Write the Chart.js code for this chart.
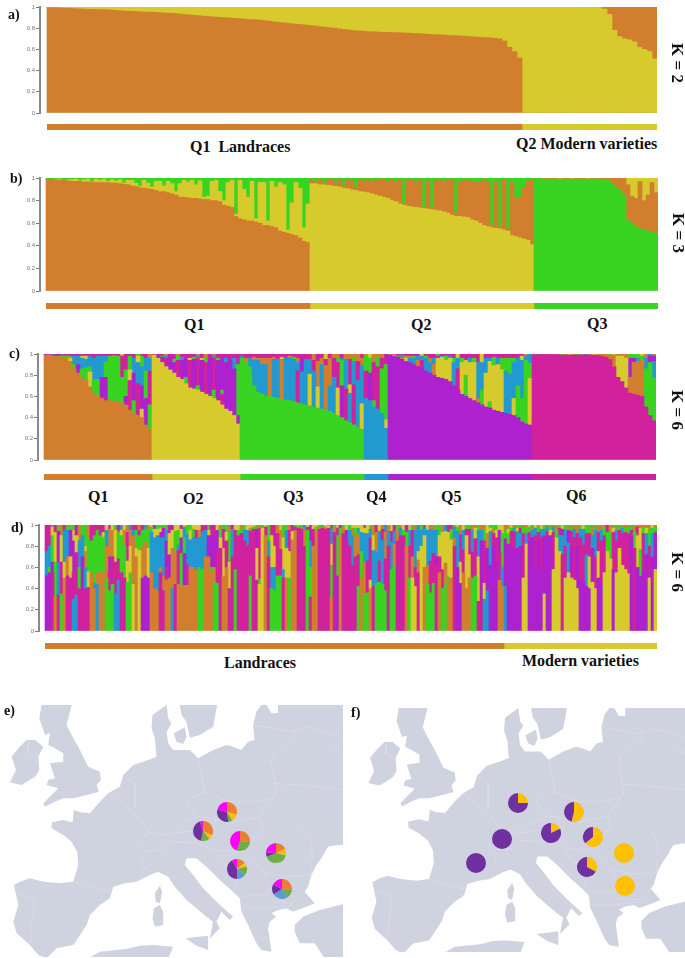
<!DOCTYPE html>
<html>
<head>
<meta charset="utf-8">
<title>Population structure</title>
<script src="https://cdn.jsdelivr.net/npm/chart.js@4/dist/chart.umd.min.js"></script>
<style>
html, body { margin: 0; padding: 0; background: #fff; }
#page { position: relative; width: 685px; height: 958px; overflow: hidden; }
canvas { position: absolute; }
.txt { position: absolute; font-family: "Liberation Serif", serif; font-weight: bold; color: #111; white-space: pre; transform: translateY(-50%); }
.k { position: absolute; font-family: "Liberation Serif", serif; font-weight: bold; color: #111; white-space: pre; font-size: 17px; transform: translate(-50%, -50%) rotate(90deg); }
</style>
</head>
<body>
<div id="page"></div>
<script>
// letters used in the column strings below
var colors = { o: "#d17f2e", y: "#d6ca2d", g: "#39d321", b: "#2299d0", p: "#ad21cf", m: "#d1229d" };
var yTicks = [0, 20, 40, 60, 80, 100];

// panel a, K = 2
var aOrangeLow = [99.5,99.4,99.2,99,98.8,98.5,98.2,98,97.8,97.7,
97.6,97.5,97.2,97,96.6,96.2,96,95.8,95.5,95.2,
95.1,95,94.7,94.4,94.2,94,93.5,93,92.5,92.1,
91.8,91.3,91,90.6,90.3,90,89.7,89.3,89,88.6,
88.2,88,87.8,87.2,86.6,86,85.5,85,84.5,84,
83.6,83.2,82.7,82.2,81.6,81,80.6,80,79.4,78.8,
78.2,77.8,77.5,77,76.7,76.5,76.3,76.1,76,75.9,
75.8,75.5,75.3,75,74.8,74.5,74.2,74,73.8,73.5,
73.2,73,72.8,72.5,72.2,71.8,71.5,71.2,71,70.5,
70,68,62,58,52,
0,0,0,0,0,0,0,0,0,0,0,0,0,0,0,0,0,0,0,0,0,0,0,0,0,0,0];
var aYellow = [0.5,0.6,0.8,1,1.2,1.5,1.8,2,2.2,2.3,
2.4,2.5,2.8,3,3.4,3.8,4,4.2,4.5,4.8,
4.9,5,5.3,5.6,5.8,6,6.5,7,7.5,7.9,
8.2,8.7,9,9.4,9.7,10,10.3,10.7,11,11.4,
11.8,12,12.2,12.8,13.4,14,14.5,15,15.5,16,
16.4,16.8,17.3,17.8,18.4,19,19.4,20,20.6,21.2,
21.8,22.2,22.5,23,23.3,23.5,23.7,23.9,24,24.1,
24.2,24.5,24.7,25,25.2,25.5,25.8,26,26.2,26.5,
26.8,27,27.2,27.5,27.8,28.2,28.5,28.8,29,29.5,
30,32,38,42,48,
100,100,100,100,100,100,99.8,99.8,99.8,99.7,99.7,99.6,99.6,99.6,99.6,99.5,
98,93,78,72,70,69,67,62,60,58,51];
var aOrangeTop = [0,0,0,0,0,0,0,0,0,0,0,0,0,0,0,0,0,0,0,0,0,0,0,0,0,0,0,0,0,0,
0,0,0,0,0,0,0,0,0,0,0,0,0,0,0,0,0,0,0,0,0,0,0,0,0,0,0,0,0,0,
0,0,0,0,0,0,0,0,0,0,0,0,0,0,0,0,0,0,0,0,0,0,0,0,0,0,0,0,0,0,0,0,0,0,0,
0,0,0,0,0,0,0.2,0.2,0.2,0.3,0.3,0.4,0.4,0.4,0.4,0.5,
2,7,22,28,30,31,33,38,40,42,49];
var aStrip = [95, 27];
var aStripCodes = ["o", "y"];

// panel b, K = 3, bottom to top
var bQ1 = ["o99 g1","o99 g1","o98.5 y.5 g1","o98 y1 g1","o98 g2","o97.5 y1 g1.5","o97 y1.5 g1.5","o97 y2 g1","o97 y.5 g2.5","o96.5 y2 g1.5",
"o96.5 y2.5 g1","o96 y.5 g3.5","o96 y3 g1","o96 y2 g2","o96 y3 g1","o96 y1 g3","o95.5 y3 g1.5","o95.5 y2 g2.5","o95 y3.5 g1.5","o94.5 y1 g4.5",
"o94 y4 g2","o93 y5 g2","o92.5 y3 g4.5","o91.5 y1 g7.5","o91 y7 g2","o90.5 y5 g4.5","o90 y2 g8","o89 y8 g3","o88 y9 g3","o88 y5 g7",
"o87 y10 g3","o86 y9 g5","o85 y3 g12","o83 y12 g5","o83 y15 g2","o82.5 y14 g3.5","o82 y16 g2","o82 y12 g6","o81.5 y16 g2.5","o81 y2 g17",
"o81 y3 g16","o80 y17 g3","o80 y18 g2","o79 y9 g12","o76 y4 g20","o75 y21 g4","o74 y24 g2","o66 y2 g32","o64 y34 g2","o63 y27 g10",
"o62 y21 g17","o62 y35 g3","o61 y3 g36","o60 y36 g4","o58 y38 g4","o58 y4 g38","o57 y40 g3","o56 y36 g8","o53 y43 g4","o52 y42 g6",
"o51 y3 g46","o50 y28 g22","o49 y47 g4","o47 y44 g9","o44 y12 g44","o43 y34 g23"];
var bQ2 = ["y95 o4 g1","y95 o2 g3","y94 o5 g1","y94 o1 g5","y93.5 o5 g1.5","y93 o6 g1","y92.5 o3 g4.5","y92 o7 g1","y91 o2 g7","y90.5 o8 g1.5",
"y89.5 o9 g1.5","y89 o3 g8","y88 o11 g1","y87.5 o9 g3.5","y87 o12 g1","y86 o11 g3","y85 o13 g2","y84 o14 g2","y83 o16 g1","y82 o15 g3",
"y80 o19 g1","y79 o17 g4","y77 o21 g2","y76 o1 g23","y75 o23 g2","y74.5 o24 g1.5","y74 o22 g4","y73.5 o25 g1.5","y73 o1 g26","y72.5 o25 g2.5",
"y72 o2 g26","y71.5 o26 g2.5","y71 o27 g2","y70 o26 g4","y69 o29 g2","y67 o31 g2","y66 o3 g31","y66 o31 g3","y65.5 o32 g2.5","y65 o33 g2",
"y63 o34 g3","y62 o35 g3","y60 o37 g3","y58 o40 g2","y57 o40 g3","y56 o2 g42","y55.5 o41 g3.5","y55 o2 g43","y54 o44 g2","y53 o2 g45",
"y49 o48 g3","y48 o34 g18","y47 o36 g17","y46 o45 g9","y45 o52 g3","y41 o57 g2"];
var bQ3 = ["g99.5 o.5","g99.5 o.5","g99 o1","g99 o1","g99 o1","g99 o1","g99 y.5 o.5","g99 o1","g99 o1","g99 y.5 o.5",
"g99 o1","g99 o1","g99 o1","g99 y.5 o.5","g99 o1","g99 o1","g99 o1","g98.5 o1.5","g98 o2","g95 o5",
"g92 o8","g90 o10","g85 o15","g63 o31 y6","g60 o24 y16","g57 o25 y18","g55 o42 y3","g54 o26 y20","g53 o32 y15","g52 o44 y4",
"g51 o36 y13"];
var bStrip = [66, 56, 31];
var bStripCodes = ["o", "y", "g"];

// panel c, K = 6, bottom to top
var cQ1 = ["o99 m1","o99 m1","o98 m1 b1","o98 p1 m1","o97 g1 b1 m1","o96 g2 m2","o93 y3 g2 m2","o86 g4 b8 m2","o82 p8 b8 m2","o78 g8 b10 y2 m2",
"o75 g12 b8 y3 m2","o69 y14 g5 b10 m2","o62 g14 b20 m4","o60 g16 b22 m2","o58 p20 b20 m2","o56 p22 g14 b6 m2","o56 g42 m2","o55.5 g43 m1.5","o55 g43 m2","o54 g24 m20 y2",
"o52 p8 g25 m15","o47 m28 y10 g13 p2","o44 g12 p26 b14 m4","o42 m30 b20 y6 g2","o40 y8 p22 b18 g10 m2","o33 p25 g26 b12 m4","o28 g24 m32 b12 o4"];
var cQ2 = ["y99 m1","y96 p2 m2","y92 p5 g1 m2","y88 m8 b2 o2","y85 p12 m3","y82 p10 g3 m5","y78 m16 g4 o2","y76 p18 b3 m3","y72 g6 p18 m4","y68 m26 y2 m4",
"y67 p28 g2 m3","y66 g4 m26 b2 o2","y64 p30 y2 m4","y62 m30 g4 o4","y60 p36 m4","y58 g8 m30 b2 o2","y56 p38 g2 m4","y52 m10 g4 p30 m4","y48 p44 b4 m4","y46 p48 m6",
"y42 p44 b10 m4","y34 p8 g48 m10"];
var cQ3 = ["g96 b2 m2","g92 o4 m4","g80 g8 b8 m4","g70 b24 o3 m3","g64 b30 o2 m4","g62 b28 o6 m4","g60 b30 o6 m4","g60 o36 m4","g59 b36 o2 m3","g58 b37 m5",
"g57 o38 y2 m3","g56.5 b40 m3.5","g56 b40 o2 m2","g55 b40 g2 m3","g54 m30 b8 o4 m4","g53 b30 p13 m4","g52 b43 m5","g51 y30 b14 m5","g50 b34 m10 o6","g49 y20 o24 m7",
"g48 b42 o6 m4","g47 o42 m6 y5","g46 b24 o26 m4","g44 b34 m18 o4","g42 y26 m24 g4 o4","g40 p30 g24 b2 m4","g37 m30 b28 o5","g35 b28 y8 m24 o5","g33 m38 b22 g3 o4","g31 b44 m18 o7",
"g29 y24 b36 o7 m4"];
var cQ4 = ["b58 m26 g14 o2","b56 p26 g14 y4","b50 g6 m36 o8","b48 m40 g8 o4","b44 g42 m10 o4","b30 y8 g52 m6 p4"];
var cQ5 = ["p99 o1","p98 y1 m1","p97 g1 m2","p95 o2 b2 m1","p93 y3 o2 m2","p92 b4 o2 m2","p90 b6 g2 m2","p88 o6 b4 m2","p86 m8 b4 y2","p84 b12 g2 m2",
"p82 b10 o4 m4","p80 o10 b6 m4","p78 y18 m2 g2","p77 y20 b1 m2","p76 y18 g4 m2","p74 y22 b2 m2","p70 b22 g4 m4","p66 m20 b10 y4","p62 y30 g4 m4","p60 g20 y14 m6","p58 y34 b4 m4",
"p56 y36 g4 m4","p54 o4 b34 m8","p52 g14 b26 y8","p50 y32 b14 m4","p49 g6 y38 b3 m4","p47 y42 g8 m3","p46 y44 b6 m4","p45 y40 g11 m4","p44 b40 g12 m4","p43 b38 g15 m4","p42 y16 b34 g4 m4",
"p40 g30 b26 m4","p36 g22 b36 y4 m2","p34 g60 b4 o2","p33 y44 g14 b9"];
var cQ6 = ["m99.5 o.5","m99.5 b.5","m99.5 o.5","m99.5 g.5","m99.5 o.5","m99.5 y.5","m99.5 o.5","m99 g1","m99 o1","m99 y1",
"m99 o1","m99 g1","m99 o1","m99 b1","m99 o1","m99 y1","m98.5 o1.5","m98 o2","m97 o3","m95 o4 g1",
"m88 o11 y1","m78 y20 o2","m74 y24 o2","m68 y28 o4","m63 o15 p18 g4","m62 o30 p4 g4","m61 o32 b3 g4","m60 o34 g4 y2","m50 g36 b10 o4","m42 g50 p6 b2",
"m37 g40 b16 p5 o2"];
var cStrip = [27, 22, 31, 6, 36, 31];
var cStripCodes = ["o", "y", "g", "b", "p", "m"];

// panel d, K = 6, bottom to top
var dLandraces = ["p52 b23 m25","p55 g5 b20 m20","m55 p10 g25 y8 o2","o32 g33 y28 m7","m34 b30 p30 g6","g35 m30 y25 o10","o50 y15 b30 m5","m52 o18 b25 g5","m50 y20 p25 g5","b30 m25 p30 y10 g5",
"b34 m40 y16 p10","m40 g20 b25 o15","m35 p35 b20 g10","m40 b20 o15 y5 g20","m41 y15 g32 o12","o55 g30 m15","o40 b5 g45 m10","b44 o11 g40 m5","o55 g35 m10","o55 g33 y5 m7",
"g50 o30 b15 y5","g38 m18 p14 o26 m4","g44 m26 o25 y5","b35 m30 y30 g5","b48 m20 g25 p7","m55 g35 y5 b5","m50 g30 o15 y5","g46 y20 m27 o7","g55 y25 o15 b5","y44 o46 b5 m5",
"o70 y8 g17 m5","y76 g14 m5 o5","p50 o30 g15 m5","p52 o32 g12 b4","p50 y28 g17 o5","o55 b38 g5 y2","o40 b48 y8 m4","o38 b52 y6 g4","m55 o5 b28 p5 y4 g3","m38 o14 b36 p9 g3",
"o48 m12 p25 b10 g5","o50 p22 y20 m8","b40 o38 y17 p5","m44 o30 g20 y6","o44 m32 b5 g14 y5","o43 g30 p15 y8 m4","o43 p30 g15 b10 y2","o43 m20 b28 g9","o60 b26 y9 g5","o60 b28 g8 y4",
"o57 b30 m8 y5","g60 b28 o7 y5","g58 b36 m6","o70 b25 m5","o70 p20 y5 g5","o55 g5 p30 m10","g46 o14 p30 m10","g45 m32 p18 y5","m78 y10 g8 o4","o52 y26 m18 g4",
"o60 m25 y8 g7","m40 y25 g28 o7","m70 b26 p4","g58 m37 y5","m90 g5 y5","m92 g4 o4","m85 b10 g5","m80 b15 y5","g52 m42 o3 y3","m96 g2 y2",
"m48 y30 p18 g4","y44 g5 m48 o3","y97 g3","o90 m8 y2","m70 b15 g15","g40 b20 y30 m10","g38 b22 y20 m20","g52 m40 o8","g52 m25 o18 y5","m50 b8 y30 g12",
"o50 y28 b17 g5","g50 y25 m20 o5","o86 y8 m6","o95 m3 g2","m97 g2 y1","m96 o2 g2","m80 o16 b4","g95 m3 y2","m32 g28 b25 p15","o80 m16 y4",
"o95 g3 y2","m96 o2 g2","m97 g2 b1","m96 o2 y2","m97 y2 g1","o32 g30 y20 b15 m3","m93 o4 g3","p52 g38 m7 y3","o90 g7 m3","m92 o5 g3",
"m85 p10 y5","m80 b15 g5","m62 b28 o7 y3","m70 o20 g7 y3","g42 m30 o20 b5 y3","o50 g25 b18 y7","g35 o30 b27 y5 m3","g36 m30 b26 y8","o40 y8 m40 b8 g4","m42 b34 y14 o10",
"g45 b30 o18 m7","g46 m20 b28 y6","g44 b42 m10 o4","g38 m30 o25 b7","m80 b14 o6","g58 b26 m10 y6","g62 o20 b12 m6","m85 o10 g5","m90 b7 o3","m90 g5 y5",
"o80 g13 m7","g50 m30 b15 y5","y50 o20 m25 g5","y42 m18 b35 o5","m55 o12 y8 b25","y80 b15 g5","o60 y30 b7 m3","g44 o18 b33 y5","g36 m30 b30 o4","g45 m28 b22 o5",
"m62 p8 b25 g5","o55 m15 y20 g10","g40 m18 y35 o7","g44 o20 y30 b6","o46 g5 y42 m7","o50 y36 g10 m4","m80 o8 b10 g2","p60 b34 g4 y2","p45 y20 m26 o9","o55 m22 b18 y5",
"o40 y50 m6 g4","o50 y22 m24 g4","g50 m25 b20 o5","g52 m35 y10 o3","m28 y42 b25 g5","m30 p55 b10 o5","b30 y15 m40 g10 o5","b38 p40 o14 y8","p62 b32 y3 g3","p80 m12 o4 g4",
"p66 m22 y7 g5","o48 m25 p22 y5","o42 b18 g32 y8"];
var dModern = ["b42 p45 g8 o5","p82 g10 y4 o4","p78 m16 g3 y3","p75 m18 b4 o3","p78 b16 y3 g3","p80 b12 m5 g3","y50 m42 g5 o3","y82 b10 g5 o3","p85 m8 g5 y2","p88 b7 o3 g2",
"p60 m30 b7 y3","p85 m8 g5 o2","p58 m30 b8 y4","y35 p55 b6 g4","p88 m6 b4 o2","p90 y5 g5","y58 m35 b5 o2","y88 g8 o4","y75 b15 m7 g3","m72 b18 p6 y4",
"y50 m30 b15 g5","y55 b28 p12 o5","y50 p30 m14 g6","y48 m40 b8 o4","y40 p40 m12 o8","p48 m40 b8 g4","p46 m35 b15 y4","p42 b30 m20 g8","p40 y30 m22 g8","y46 p32 b12 o10",
"y40 m30 b25 g5","p50 y25 m18 o7","p45 m40 b10 o5","y55 m35 g8 o2","y75 g18 m7","y68 g25 o7","p58 m35 y4 g3","y55 m30 b10 o5","y78 m17 g5","y62 m30 b5 o3",
"y58 m35 g4 o3","y54 m38 g5 o3","p90 m5 g5","m78 g15 o7","p60 y30 m8 o2","p52 g25 y20 o3","p56 m36 g5 o3","p72 b20 y5 o3","y50 m30 g15 o5","p70 b22 g5 y3",
"y58 p35 g5 o2"];
var dStrip = [153, 51];
var dStripCodes = ["o", "y"];

// map outlines
var landMainland = [[42,570],[60,560],[90,550],[130,560],[180,565],[220,560],[235,510],[232,470],[215,440],[190,420],[155,400],[155,382],[190,375],[218,382],[222,345],[240,352],[270,355],[300,320],[325,295],[360,275],[370,240],[400,210],[430,200],[445,195],[470,185],[465,130],[455,100],[458,60],[500,30],[505,70],[515,85],[500,110],[505,145],[520,165],[545,165],[570,165],[595,190],[640,165],[680,150],[700,155],[725,165],[745,140],[765,135],[760,90],[770,50],[785,30],[800,30],[815,55],[835,55],[835,30],[1040,30],[1040,450],[1010,450],[985,455],[965,490],[950,510],[935,540],[925,575],[915,590],[945,625],[920,635],[880,650],[860,640],[835,645],[815,655],[830,665],[810,680],[805,700],[815,770],[785,765],[770,745],[745,690],[725,650],[720,610],[700,590],[660,555],[620,515],[590,490],[560,490],[555,510],[580,540],[610,580],[650,620],[700,665],[690,675],[665,650],[650,680],[660,700],[630,730],[640,680],[620,665],[590,640],[560,615],[525,575],[505,545],[475,530],[450,540],[410,560],[375,565],[340,575],[330,610],[300,630],[270,660],[260,690],[240,720],[220,750],[170,760],[140,790],[115,780],[90,750],[50,715],[40,680],[55,630]];
var landBritain = [[125,30],[215,30],[200,90],[215,120],[235,155],[265,215],[300,230],[303,255],[290,270],[297,290],[260,300],[220,310],[190,310],[165,320],[135,335],[130,325],[170,285],[175,280],[140,270],[145,255],[165,250],[150,205],[190,200],[190,175],[165,160],[145,150],[150,115],[135,120],[118,70]];
var landIreland = [[80,135],[105,135],[130,155],[115,185],[118,225],[105,245],[65,270],[30,262],[48,225],[35,185],[55,160]];
var landSweden = [[540,30],[652,30],[640,95],[600,120],[570,128],[560,80],[545,60]];
var landZealand = [[522,115],[555,97],[560,125],[550,147],[530,140]];
var landCorsica = [[480,572],[487,590],[480,625],[468,620],[465,595]];
var landSardinia = [[462,640],[480,630],[490,650],[490,690],[465,695],[458,670]];
var landSicily = [[557,730],[625,722],[625,765],[590,752]];
var landAfrica = [[265,790],[300,770],[380,762],[420,752],[460,750],[520,755],[505,790]];
var landTurkey = [[885,690],[910,665],[960,645],[1040,625],[1040,790],[975,790],[945,745],[900,745],[885,710]];
var allLand = [landMainland, landBritain, landIreland, landSweden, landZealand, landCorsica, landSardinia, landSicily, landAfrica, landTurkey];

var borders = [
[[222,560],[260,575],[330,590]],
[[60,595],[105,615],[95,690],[90,750]],
[[325,295],[345,310],[400,350],[420,375],[445,410],[405,460],[430,490],[425,515],[460,530]],
[[595,190],[605,240],[615,290],[555,320],[590,365],[545,385],[480,420],[445,410]],
[[370,240],[405,265],[405,340]],
[[490,420],[560,410],[640,400],[650,370],[590,365]],
[[425,470],[490,465],[510,440],[590,445],[645,465]],
[[615,290],[690,320],[760,320],[820,310],[830,290],[815,200],[820,180]],
[[820,265],[900,270],[1040,285]],
[[650,370],[690,385],[780,365],[820,310]],
[[780,365],[790,400],[730,470],[650,465]],
[[930,495],[935,540],[860,545],[790,530],[740,480]],
[[890,390],[930,430],[940,490]],
[[790,530],[810,580],[800,600],[750,600],[720,610]],
[[640,465],[690,530],[710,570],[700,590]],
[[810,620],[880,625],[915,590]],
[[730,640],[810,640],[880,630]],
[[760,90],[880,110],[930,95],[1040,130]],
[[815,185],[885,125],[885,95]],
[[1040,180],[990,150]],
[[85,140],[85,175],[115,185]]
];

// pie shares, clockwise from the top
var pieCodes = ["orange", "yellow", "green", "blue", "purple", "magenta"];
var pieColors = { orange: "#ed7d31", yellow: "#ffc000", green: "#70ad47", blue: "#5b9bd5", purple: "#7030a0", magenta: "#ff00ff" };
var pieE1 = [29, 12, 7, 0, 31, 21];
var pieE2 = [32, 7, 14, 0, 42, 5];
var pieE3 = [26, 0, 29, 0, 0, 45];
var pieE4 = [18, 11, 40, 0, 7, 24];
var pieE5 = [14, 7, 15, 14, 42, 8];
var pieE6 = [26, 0, 15, 25, 17, 17];
var pieF1 = [0, 25, 0, 0, 75, 0];
var pieF2 = [0, 54, 0, 0, 46, 0];
var pieF3 = [0, 18, 0, 0, 82, 0];
var pieF4 = [0, 64, 0, 0, 36, 0];
var pieF5 = [0, 100, 0, 0, 0, 0];
var pieF6 = [0, 100, 0, 0, 0, 0];
var pieF7 = [0, 0, 0, 0, 100, 0];
var pieF8 = [0, 0, 0, 0, 100, 0];
var pieF9 = [0, 33, 0, 0, 67, 0];

var page = document.getElementById("page");

var addCanvas = function (left, top, width, height) {
    var c = document.createElement("canvas");
    c.width = width;
    c.height = height;
    c.style.left = left + "px";
    c.style.top = top + "px";
    page.appendChild(c);
    return c;
};

var label = function (text, x, y, size) {
    var d = document.createElement("div");
    d.className = "txt";
    d.textContent = text;
    d.style.left = x + "px";
    d.style.top = y + "px";
    d.style.fontSize = size + "px";
    page.appendChild(d);
};

var kLabel = function (text, x, y) {
    var d = document.createElement("div");
    d.className = "k";
    d.textContent = text;
    d.style.left = x + "px";
    d.style.top = y + "px";
    page.appendChild(d);
};

var toLayers = function (columns) {
    var layers = [];
    columns.forEach(function (col, i) {
        var parts = col.split(" ");
        var total = 0;
        parts.forEach(function (p) { total += parseFloat(p.slice(1)); });
        parts.forEach(function (p, k) {
            if (!layers[k]) {
                layers[k] = { data: [], backgroundColor: [] };
            }
            layers[k].data.push({ x: i, y: parseFloat(p.slice(1)) / total * 100 });
            layers[k].backgroundColor.push(colors[p[0]]);
        });
    });
    return layers;
};

var toFlat = function (values, code) {
    return {
        data: values.map(function (v, i) { return { x: i, y: v }; }),
        backgroundColor: colors[code]
    };
};

// p: axis = x of y axis, left = x of first bar, right, top, bottom (all page px)
var barPanel = function (p, datasets, n) {
    var pad = 6;
    var canvas = addCanvas(0, p.top - pad, 685, p.bottom - p.top + pad * 2);
    var colW = (p.right - p.left) / n;
    datasets.forEach(function (d) {
        d.barPercentage = 1;
        d.categoryPercentage = 1;
        d.borderWidth = 0;
    });
    new Chart(canvas, {
        type: "bar",
        data: { datasets: datasets },
        options: {
            responsive: false,
            animation: false,
            layout: { padding: { top: pad, bottom: pad, left: 0, right: 685 - p.right } },
            plugins: { legend: { display: false }, tooltip: { enabled: false } },
            scales: {
                x: {
                    type: "linear",
                    stacked: true,
                    offset: false,
                    display: false,
                    min: -0.5 - (p.left - p.axis) / colW,
                    max: n - 0.5
                },
                y: {
                    stacked: true,
                    min: 0,
                    max: 100,
                    afterFit: function (s) { s.width = p.axis; },
                    afterBuildTicks: function (s) {
                        s.ticks = yTicks.map(function (v) { return { value: v }; });
                    },
                    border: { color: "#8a8a8a", width: 2 },
                    grid: { drawOnChartArea: false, tickLength: 4, tickColor: "#777", tickWidth: 1 },
                    ticks: {
                        padding: 1,
                        color: "#777",
                        font: { size: 6, family: "Liberation Sans" },
                        callback: function (v) { return v / 100; }
                    }
                }
            }
        }
    });
};

var strip = function (left, right, top, height, counts, codes) {
    var canvas = addCanvas(left, top, right - left, height);
    var total = 0;
    counts.forEach(function (c) { total += c; });
    new Chart(canvas, {
        type: "bar",
        data: {
            labels: [""],
            datasets: counts.map(function (c, i) {
                return { data: [c], backgroundColor: colors[codes[i]], barPercentage: 1, categoryPercentage: 1, borderWidth: 0 };
            })
        },
        options: {
            indexAxis: "y",
            responsive: false,
            animation: false,
            plugins: { legend: { display: false }, tooltip: { enabled: false } },
            scales: {
                x: { stacked: true, display: false, min: 0, max: total },
                y: { stacked: true, display: false }
            }
        }
    });
};

// the filler clips a shape to its first and last x, so land is filled from the parsed points
var landFill = {
    id: "landFill",
    beforeDatasetsDraw: function (chart) {
        var ctx = chart.ctx;
        chart.data.datasets.forEach(function (d, i) {
            if (!d.land) {
                return;
            }
            var pts = chart.getDatasetMeta(i).data;
            ctx.save();
            ctx.beginPath();
            pts.forEach(function (pt, k) {
                if (k == 0) {
                    ctx.moveTo(pt.x, pt.y);
                } else {
                    ctx.lineTo(pt.x, pt.y);
                }
            });
            ctx.closePath();
            ctx.fillStyle = "#cfd2df";
            ctx.fill();
            ctx.restore();
        });
    }
};

var mapPanel = function (left, top, width, height, xr, yr) {
    var canvas = addCanvas(left, top, width, height);
    var datasets = [];
    allLand.forEach(function (poly) {
        datasets.push({
            land: true,
            data: poly.map(function (q) { return { x: q[0], y: q[1] }; }),
            showLine: false,
            pointRadius: 0
        });
    });
    borders.forEach(function (line) {
        datasets.push({
            data: line.map(function (q) { return { x: q[0], y: q[1] }; }),
            showLine: true,
            fill: false,
            borderColor: "#dcdee8",
            borderWidth: 0.7,
            pointRadius: 0
        });
    });
    new Chart(canvas, {
        type: "scatter",
        data: { datasets: datasets },
        plugins: [landFill],
        options: {
            responsive: false,
            animation: false,
            plugins: { legend: { display: false }, tooltip: { enabled: false } },
            scales: {
                x: { type: "linear", display: false, min: xr[0], max: xr[1] },
                y: { type: "linear", display: false, reverse: true, min: yr[0], max: yr[1] }
            }
        }
    });
};

var pie = function (cx, cy, values) {
    var size = 24;
    var canvas = addCanvas(Math.round(cx - size / 2), Math.round(cy - size / 2), size, size);
    new Chart(canvas, {
        type: "pie",
        data: {
            labels: pieCodes,
            datasets: [{
                data: values,
                backgroundColor: pieCodes.map(function (c) { return pieColors[c]; }),
                borderWidth: 0
            }]
        },
        options: {
            responsive: false,
            animation: false,
            radius: 10,
            plugins: { legend: { display: false }, tooltip: { enabled: false } }
        }
    });
};

window.onload = function () {
    barPanel({ axis: 40, left: 47, right: 657, top: 7, bottom: 113 },
        [toFlat(aOrangeLow, "o"), toFlat(aYellow, "y"), toFlat(aOrangeTop, "o")], aYellow.length);
    strip(47, 657, 124, 6, aStrip, aStripCodes);

    barPanel({ axis: 40, left: 46, right: 658, top: 178, bottom: 291 },
        toLayers(bQ1.concat(bQ2, bQ3)), bQ1.length + bQ2.length + bQ3.length);
    strip(46, 658, 303, 6, bStrip, bStripCodes);

    var cAll = cQ1.concat(cQ2, cQ3, cQ4, cQ5, cQ6);
    barPanel({ axis: 38, left: 44, right: 656, top: 354, bottom: 460 }, toLayers(cAll), cAll.length);
    strip(44, 656, 474, 6, cStrip, cStripCodes);

    var dAll = dLandraces.concat(dModern);
    barPanel({ axis: 39, left: 45, right: 657, top: 525, bottom: 631 }, toLayers(dAll), dAll.length);
    strip(45, 657, 643, 6, dStrip, dStripCodes);

    mapPanel(0, 705, 343, 252, [0, 1030], [30, 786]);
    mapPanel(342, 708, 343, 244, [-53, 1022], [30, 786]);

    pie(226.7, 812.3, pieE1);
    pie(203, 831, pieE2);
    pie(240, 840.7, pieE3);
    pie(276, 852.7, pieE4);
    pie(236.7, 868.7, pieE5);
    pie(282, 889, pieE6);

    pie(517.7, 802.7, pieF1);
    pie(574, 812, pieF2);
    pie(550.7, 833.3, pieF3);
    pie(592.7, 836.7, pieF4);
    pie(624.3, 853.3, pieF5);
    pie(624.7, 885.7, pieF6);
    pie(502.3, 839.3, pieF7);
    pie(476, 863.3, pieF8);
    pie(586.7, 867.3, pieF9);

    label("a)", 8, 15, 14);
    label("b)", 10, 179, 14);
    label("c)", 9, 354, 14);
    label("d)", 11, 528, 14);
    label("e)", 4, 711, 14);
    label("f)", 351, 713, 14);

    label("Q1  Landraces", 190, 147, 16);
    label("Q2 Modern varieties", 516, 144, 16);
    label("Q1", 184, 325, 16);
    label("Q2", 411, 325, 16);
    label("Q3", 587, 324, 16);
    label("Q1", 88, 497, 16);
    label("O2", 183, 499, 16);
    label("Q3", 283, 497, 16);
    label("Q4", 366, 497, 16);
    label("Q5", 441, 497, 16);
    label("Q6", 566, 496, 16);
    label("Landraces", 224, 663, 16);
    label("Modern varieties", 522, 661, 16);

    kLabel("K = 2", 677, 63);
    kLabel("K = 3", 678, 233);
    kLabel("K = 6", 677, 410);
    kLabel("K = 6", 677, 572);
};
</script>
</body>
</html>
